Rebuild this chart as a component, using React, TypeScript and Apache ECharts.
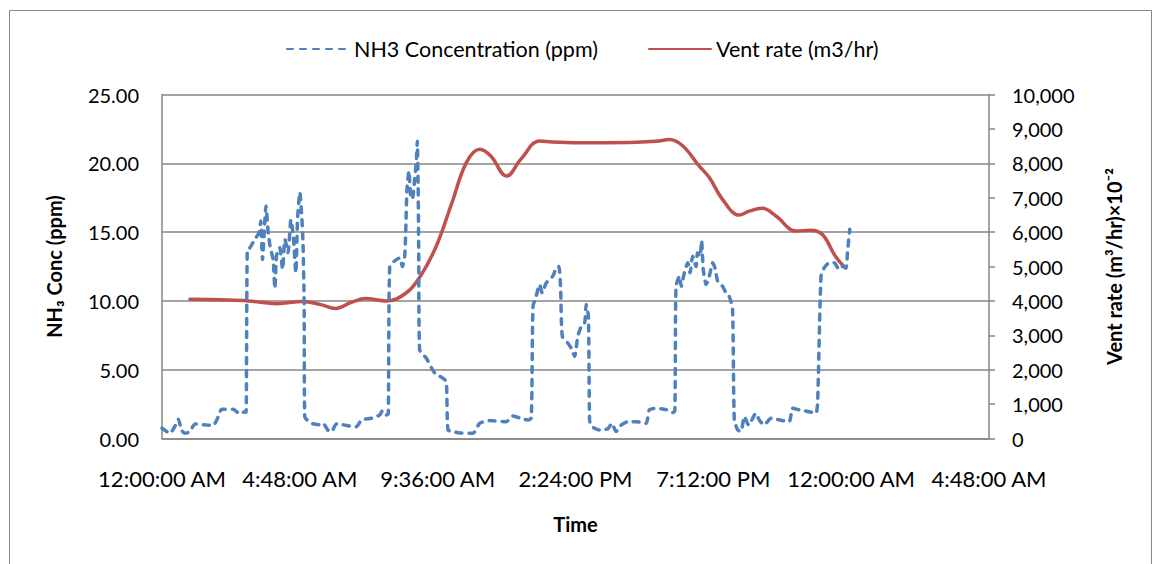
import React, { useEffect, useRef } from "react";
import * as echarts from "echarts";

// NH3 concentration (ppm) vs time of day (hours since midnight)
const nh3Hours = [
  0.0, 0.28, 0.45, 0.57, 0.68, 0.8, 0.97, 1.15, 1.44, 1.78, 1.96, 2.08, 2.48, 2.71, 2.89, 2.93,
  2.97, 3.06, 3.23, 3.38, 3.44, 3.5, 3.56, 3.62, 3.7, 3.76, 3.87, 3.93, 3.99, 4.1, 4.2, 4.28,
  4.39, 4.49, 4.57, 4.66, 4.72, 4.8, 4.86, 4.91, 4.95, 4.97, 5.21, 5.5, 5.61, 5.78, 5.9, 6.08,
  6.54, 6.77, 6.95, 7.29, 7.58, 7.68, 7.82, 7.88, 7.93, 8.1, 8.28, 8.37, 8.45, 8.49, 8.53, 8.6,
  8.66, 8.72, 8.8, 8.86, 8.89, 8.92, 8.94, 8.97, 9.2, 9.5, 9.78, 9.9, 9.96, 10.14, 10.37, 10.83,
  11.06, 11.4, 11.99, 12.22, 12.45, 12.74, 12.86, 12.92, 13.03, 13.15, 13.24, 13.38, 13.61, 13.73, 13.82, 13.88,
  13.94, 14.13, 14.25, 14.37, 14.48, 14.6, 14.72, 14.77, 14.85, 14.89, 14.95, 15.23, 15.52, 15.67, 15.81, 15.99,
  16.22, 16.51, 16.86, 16.97, 17.2, 17.55, 17.78, 17.86, 17.9, 18.02, 18.08, 18.19, 18.31, 18.39, 18.48, 18.6,
  18.65, 18.74, 18.79, 18.85, 18.95, 19.06, 19.18, 19.27, 19.35, 19.52, 19.64, 19.76, 19.87, 19.93, 20.05, 20.16,
  20.28, 20.43, 20.68, 20.8, 20.97, 21.21, 21.5, 21.84, 21.96, 22.19, 22.54, 22.77, 22.83, 22.95, 23.06, 23.23,
  23.41, 23.58, 23.7, 23.82, 23.87, 23.95,
];
const nh3Values = [
  0.75, 0.38, 0.9, 1.4, 0.6, 0.38, 0.5, 1.06, 1.0, 0.95, 1.59, 2.13, 2.13, 1.78, 1.95, 1.9,
  13.74, 13.86, 14.47, 14.95, 15.8, 13.0, 15.0, 16.9, 14.95, 14.0, 13.0, 10.9, 13.3, 13.86, 12.3, 14.47,
  13.5, 15.9, 14.8, 12.04, 15.9, 17.9, 16.4, 14.2, 9.85, 1.59, 1.1, 1.0, 1.1, 0.6, 0.5, 1.06,
  0.91, 0.85, 1.35, 1.47, 1.71, 2.03, 1.71, 1.8, 12.52, 12.9, 13.13, 12.5, 13.2, 15.2, 18.1, 19.45,
  17.6, 17.4, 18.84, 20.3, 21.6, 18.35, 13.5, 6.45, 5.85, 4.75, 4.39, 4.14, 0.62, 0.5, 0.4, 0.38,
  1.1, 1.3, 1.22, 1.64, 1.5, 1.35, 1.5, 9.6, 10.34, 11.19, 10.58, 11.3, 11.8, 12.4, 12.5, 11.06,
  7.42, 6.94, 6.57, 5.96, 7.42, 8.15, 8.4, 9.73, 8.88, 1.35, 0.9, 0.62, 0.7, 1.1, 0.5, 0.98,
  1.22, 1.22, 1.1, 2.08, 2.2, 2.1, 1.88, 2.0, 11.06, 11.8, 11.06, 12.04, 12.77, 12.04, 13.25, 12.5,
  13.5, 13.25, 14.4, 12.28, 11.19, 11.8, 12.77, 12.3, 11.43, 11.06, 10.58, 10.3, 9.37, 1.35, 0.62, 0.5,
  1.59, 0.98, 1.83, 1.35, 0.98, 1.47, 1.35, 1.22, 2.2, 2.08, 1.95, 1.83, 2.5, 11.8, 12.4, 12.77,
  12.77, 12.28, 12.5, 12.4, 13.5, 15.2,
];

// Vent rate (m3/hr) vs time of day (hours)
const ventHours = [
  0.97, 2.0, 3.0, 4.0, 4.9, 5.5, 6.05, 6.6, 7.1, 7.8, 8.5, 9.0, 9.55, 10.1, 10.6, 11.06,
  11.45, 12.0, 12.5, 13.15, 13.6, 14.5, 15.5, 16.5, 17.2, 17.67, 18.13, 18.71, 19.06, 19.52, 20.1, 20.45,
  20.9, 21.38, 22.08, 22.6, 23.0, 23.45, 23.8,
];
const ventValues = [
  4050, 4030, 4000, 3920, 3985, 3900, 3780, 3960, 4070, 4000, 4230, 4720, 5590, 6860, 8020, 8410,
  8215, 7630, 8120, 8650, 8620, 8600, 8600, 8610, 8640, 8690, 8510, 7920, 7585, 6950, 6495, 6610,
  6690, 6466, 6030, 6057, 5930, 5300, 4960,
];

const seriesNames = ["NH3 Concentration (ppm)", "Vent rate (m3/hr)"];
const xTitle = "Time";
const yLeftTitle = "NH₃ Conc (ppm)";
const yRightTitle = "Vent rate (m³/hr)×10⁻²";

const pad = (n: number) => (n < 10 ? "0" + n : String(n));
function timeLabel(h: number): string {
  const total = Math.round(h * 60);
  const m = ((total % 1440) + 1440) % 1440;
  const hh = Math.floor(m / 60);
  const mm = m % 60;
  const ampm = hh < 12 ? "AM" : "PM";
  let h12 = hh % 12;
  if (h12 === 0) h12 = 12;
  return `${h12}:${pad(mm)}:00 ${ampm}`;
}

const FONT = "Lato, 'Open Sans', sans-serif";
const GRAY = "#868686";

export default function App() {
  const ref = useRef<HTMLDivElement>(null);
  useEffect(() => {
    if (!ref.current) return;
    const chart = echarts.init(ref.current, undefined, { renderer: "svg" });
    const nh3Data = nh3Hours.map((h, i) => [h, nh3Values[i]]);
    const ventData = ventHours.map((h, i) => [h, ventValues[i]]);
    chart.setOption({
      animation: false,
      backgroundColor: "#ffffff",
      textStyle: { fontFamily: FONT },
      graphic: [
        {
          type: "rect",
          shape: { x: 9.5, y: 10.5, width: 1142, height: 600 },
          style: { fill: "none", stroke: GRAY, lineWidth: 1 },
          silent: true,
          z: -1,
        },
      ],
      legend: {
        top: 33,
        left: 281,
        itemWidth: 62,
        itemHeight: 14,
        itemGap: 50,
        itemStyle: { opacity: 0, borderWidth: 0 },
        textStyle: { fontFamily: FONT, fontSize: 21.5, color: "#000" },
        data: seriesNames,
      },
      grid: { left: 162, right: 169, top: 94.5, bottom: 125.5, containLabel: false },
      xAxis: {
        type: "value",
        min: 0,
        max: 28.8,
        interval: 4.8,
        name: xTitle,
        nameLocation: "middle",
        nameGap: 75,
        nameTextStyle: { fontFamily: FONT, fontSize: 20, fontWeight: "bold", color: "#000" },
        axisLine: { show: true, lineStyle: { color: GRAY, width: 1.5 } },
        axisTick: { show: false },
        splitLine: { show: false },
        axisLabel: {
          margin: 29,
          fontFamily: FONT,
          fontSize: 22,
          color: "#000",
          formatter: (v: number) => timeLabel(v),
        },
      },
      yAxis: [
        {
          type: "value",
          min: 0,
          max: 25,
          interval: 5,
          name: yLeftTitle,
          nameLocation: "middle",
          nameGap: 98,
          nameRotate: 90,
          nameTextStyle: { fontFamily: FONT, fontSize: 20, fontWeight: "bold", color: "#000" },
          axisLine: { show: true, lineStyle: { color: GRAY, width: 1.5 } },
          axisTick: { show: false },
          splitLine: { show: true, lineStyle: { color: GRAY, width: 1.5 } },
          axisLabel: {
            margin: 23,
            fontFamily: FONT,
            fontSize: 20,
            color: "#000",
            formatter: (v: number) => v.toFixed(2),
          },
        },
        {
          type: "value",
          min: 0,
          max: 10000,
          interval: 1000,
          position: "right",
          name: yRightTitle,
          nameLocation: "middle",
          nameGap: 115,
          nameRotate: 90,
          nameTextStyle: { fontFamily: FONT, fontSize: 20, fontWeight: "bold", color: "#000" },
          axisLine: { show: true, lineStyle: { color: GRAY, width: 1.5 } },
          axisTick: { show: true, length: 6, lineStyle: { color: GRAY, width: 1.5 } },
          splitLine: { show: false },
          axisLabel: {
            margin: 23,
            fontFamily: FONT,
            fontSize: 20,
            color: "#000",
            formatter: (v: number) => v.toLocaleString("en-US"),
          },
        },
      ],
      series: [
        {
          name: seriesNames[0],
          type: "line",
          yAxisIndex: 0,
          data: nh3Data,
          symbol: "none",
          showSymbol: false,
          smooth: 0.2,
          z: 3,
          lineStyle: { color: "#4F81BD", width: 3.5, type: [6, 7], cap: "round", join: "round" },
          itemStyle: { color: "#4F81BD" },
        },
        {
          name: seriesNames[1],
          type: "line",
          yAxisIndex: 1,
          data: ventData,
          symbol: "none",
          showSymbol: false,
          smooth: 0.4,
          z: 2,
          lineStyle: { color: "#C0504D", width: 3.5, cap: "round" },
          itemStyle: { color: "#C0504D" },
        },
      ],
    });
    return () => chart.dispose();
  }, []);
  return (
    <div
      ref={ref}
      style={{ position: "fixed", left: 0, top: 0, width: 1158, height: 564, background: "#fff" }}
    />
  );
}
